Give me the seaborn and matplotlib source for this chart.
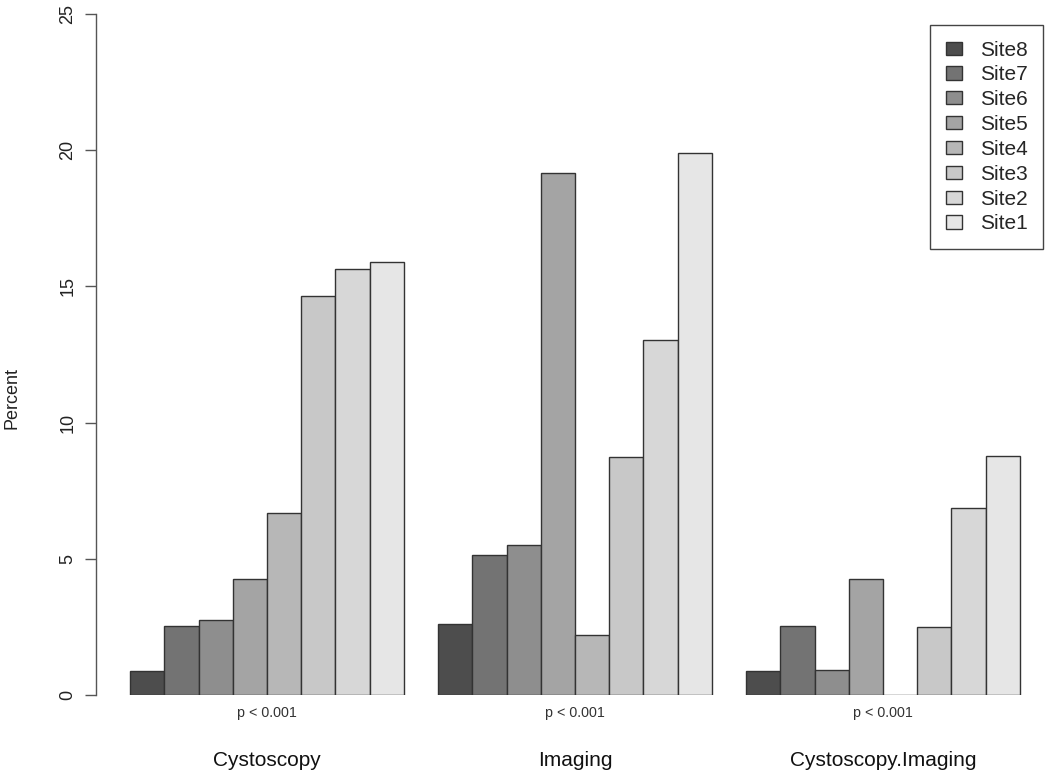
import matplotlib
matplotlib.use("Agg")
import matplotlib.pyplot as plt
import seaborn as sns
import pandas as pd

methods = ["Cystoscopy", "Imaging", "Cystoscopy.Imaging"]
sites = ["Site8", "Site7", "Site6", "Site5", "Site4", "Site3", "Site2", "Site1"]
cystoscopy = [0.87, 2.54, 2.74, 4.26, 6.67, 14.66, 15.63, 15.91]
imaging = [2.6, 5.14, 5.5, 19.15, 2.22, 8.74, 13.02, 19.89]
cysto_imaging = [0.87, 2.55, 0.93, 4.26, 0.0, 2.5, 6.85, 8.77]
p_labels = ["p < 0.001", "p < 0.001", "p < 0.001"]
colors = ["#4D4D4D", "#737373", "#8E8E8E", "#A4A4A4", "#B7B7B7", "#C8C8C8", "#D7D7D7", "#E6E6E6"]

rows = []
for m, vals in zip(methods, [cystoscopy, imaging, cysto_imaging]):
    for s, v in zip(sites, vals):
        rows.append({"method": m, "site": s, "pct": v})
df = pd.DataFrame(rows)

sns.set_theme(style="white")
plt.rcParams["font.family"] = ["Liberation Sans", "DejaVu Sans"]

fig = plt.figure(figsize=(10.5, 7.77), dpi=100)
ax = fig.add_axes([96 / 1050, 82 / 777, 954 / 1050, 681 / 777])

sns.barplot(data=df, x="method", y="pct", hue="site", order=methods, hue_order=sites,
            palette=colors, width=8 / 9, gap=0, edgecolor="#333333", linewidth=1.0,
            errorbar=None, saturation=1, ax=ax)

ax.set_ylim(0, 25)
ax.set_xlim(-0.555, 2.542)
ax.set_yticks([0, 5, 10, 15, 20, 25])
ax.set_yticklabels(["0", "5", "10", "15", "20", "25"], rotation=90, va="center", fontsize=13)
ax.tick_params(axis="y", left=True, length=8, width=1, color="#555555", pad=6, labelcolor="#222222")
ax.set_xticks([])
ax.set_xlabel("")
ax.set_ylabel("Percent", fontsize=13, color="#222222")
ax.yaxis.set_label_coords(-0.079, 0.436)
for sp in ["top", "right", "bottom"]:
    ax.spines[sp].set_visible(False)
ax.spines["left"].set_bounds(0, 25)
ax.spines["left"].set_color("#555555")
ax.spines["left"].set_linewidth(1)

for i, (m, p) in enumerate(zip(methods, p_labels)):
    ax.text(i, -0.65, p, ha="center", va="center", fontsize=10.3, color="#333333")
    ax.text(i, -2.4, m, ha="center", va="center", fontsize=15, color="#111111")

leg = ax.legend(loc="upper right", bbox_to_anchor=(0.993, 0.984), frameon=True, fancybox=False,
                fontsize=15, handlelength=0.8, handleheight=0.6, labelspacing=0.28,
                borderpad=0.75, handletextpad=0.85, borderaxespad=0, title=None)
leg.get_frame().set_edgecolor("#444444")
leg.get_frame().set_linewidth(1.0)
leg.get_frame().set_alpha(1)

fig.savefig("out.png", dpi=100)
